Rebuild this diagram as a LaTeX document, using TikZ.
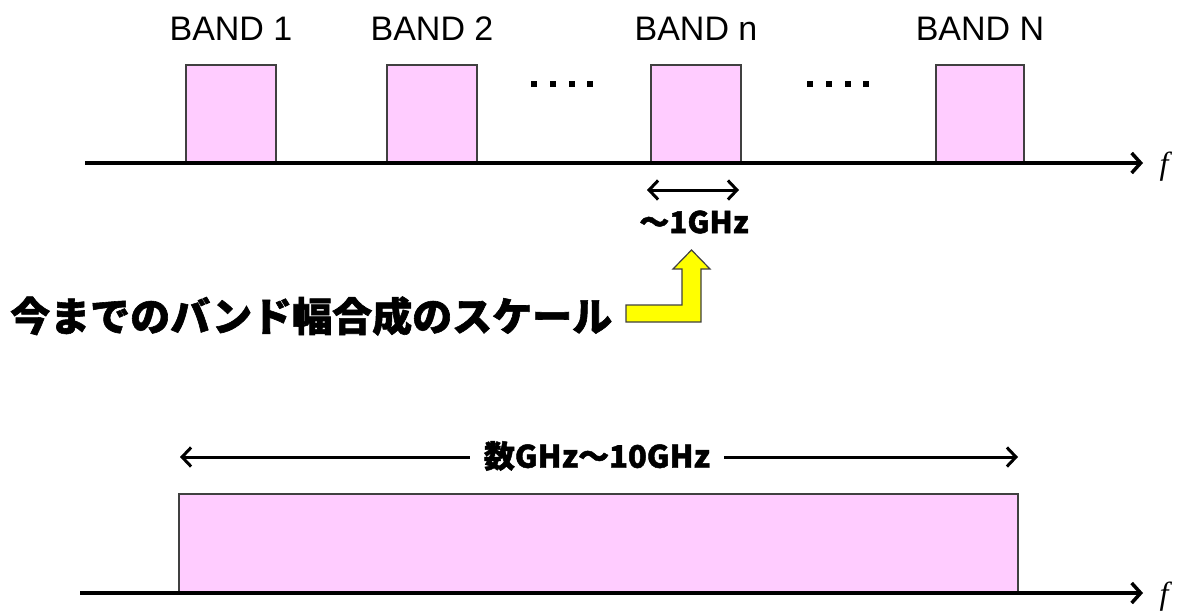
\documentclass[tikz,border=0pt]{standalone}
\usepackage{fontspec}
\setmainfont{Liberation Sans}
\newfontfamily\cjk[BoldFeatures={FakeBold=1.5}]{Noto Sans CJK JP}
\newfontfamily\serifit{Liberation Serif}
\usetikzlibrary{arrows.meta}
\definecolor{bandpink}{HTML}{FFCCFF}
\definecolor{bandedge}{HTML}{404040}
\definecolor{hilite}{HTML}{FFFF00}
\begin{document}
\begin{tikzpicture}[x=1pt,y=-1pt,
  bandbox/.style={draw=bandedge, fill=bandpink, line width=1.5pt, inner sep=0pt, outer sep=0pt, anchor=south west},
  bandlabel/.style={font=\fontsize{34}{40}\selectfont, inner sep=0pt, anchor=base},
  axisline/.style={line width=4pt, -{Straight Barb[length=9pt,width=20pt,line width=3.5pt]}},
  spanarrow/.style={line width=3pt, {Straight Barb[length=9pt,width=19pt,line width=3pt]}-{Straight Barb[length=9pt,width=19pt,line width=3pt]}},
  poptext/.style={font=\cjk\bfseries, inner sep=0pt},
  fvar/.style={font=\serifit\itshape\fontsize{32}{36}\selectfont, inner sep=0pt},
  dotsq/.style={fill=black, minimum size=6pt, inner sep=0pt}
]
\useasboundingbox (0,0) rectangle (1190,610);

% ---- top spectrum ----
\node[bandbox, minimum width=90pt, minimum height=98pt] (b1) at (186,163) {};
\node[bandbox, minimum width=90pt, minimum height=98pt] (b2) at (387,163) {};
\node[bandbox, minimum width=90pt, minimum height=98pt] (bn) at (651,163) {};
\node[bandbox, minimum width=88pt, minimum height=98pt] (bN) at (936,163) {};

\coordinate (ax1s) at (85,163);
\coordinate (ax1e) at (1143,163);
\draw[axisline] (ax1s) -- (ax1e);
\node[fvar] (f1) at (1164,167) {f};

\node[bandlabel] (l1) at (231,41) {BAND 1};
\node[bandlabel] (l2) at (432,41) {BAND 2};
\node[bandlabel] (ln) at (696,41) {BAND n};
\node[bandlabel] (lN) at (980,41) {BAND N};

\foreach \i/\x in {1/534,2/553,3/572,4/590}{\node[dotsq] (da\i) at (\x,84) {};}
\foreach \i/\x in {1/810,2/829,3/848,4/866}{\node[dotsq] (db\i) at (\x,84) {};}

\coordinate (w1) at (647,190);
\coordinate (w2) at (739,190);
\draw[spanarrow] (w1) -- (w2);
\node[poptext, font=\cjk\bfseries\fontsize{30}{34}\selectfont] (ghz1) at (694,222) {～1GHz};

% ---- yellow block arrow ----
\draw[draw=bandedge, fill=hilite, line width=1.2pt, line join=miter]
  (626,305) -- (682,305) -- (682,269) -- (673,269) -- (691.5,250) -- (710,269)
  -- (701,269) -- (701,322) -- (626,322) -- cycle;

\node[poptext, font=\cjk\bfseries\fontsize{40}{46}\selectfont, anchor=west] (scale) at (10,316) {今までのバンド幅合成のスケール};

% ---- bottom spectrum ----
\node[bandbox, minimum width=839pt, minimum height=99pt] (wide) at (179,593) {};
\coordinate (ax2s) at (80,593);
\coordinate (ax2e) at (1143,593);
\draw[axisline] (ax2s) -- (ax2e);
\node[fvar] (f2) at (1164,597) {f};

\coordinate (s1) at (180,457);
\coordinate (s2) at (1018,457);
\draw[spanarrow] (s1) -- (s2);
\node[poptext, fill=white, inner xsep=14pt, font=\cjk\bfseries\fontsize{31}{35}\selectfont] (ghz2) at (597,456) {数GHz～10GHz};
\end{tikzpicture}
\end{document}
